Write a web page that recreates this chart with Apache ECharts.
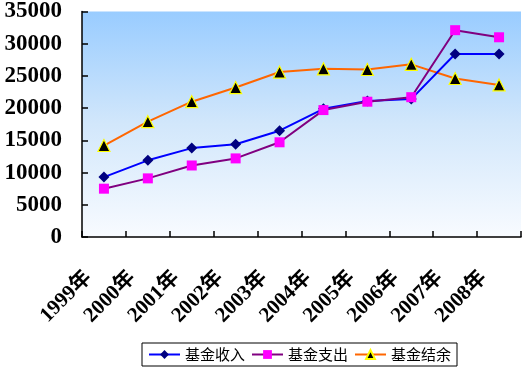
<!DOCTYPE html>
<html><head><meta charset="utf-8">
<script src="https://cdn.jsdelivr.net/npm/echarts@6/dist/echarts.min.js"></script>
<style>html,body{margin:0;padding:0;background:#fff}#c{width:525px;height:373px}</style>
</head><body><div id="c"></div>
<script>
var categories = ['1999年','2000年','2001年','2002年','2003年','2004年','2005年','2006年','2007年','2008年'];
var income = [9300, 11900, 13800, 14400, 16500, 19900, 21100, 21400, 28400, 28400];
var expense = [7500, 9100, 11100, 12200, 14700, 19700, 21000, 21700, 32100, 31000];
var balance = [14200, 17900, 21000, 23200, 25600, 26100, 26000, 26800, 24600, 23600];
var yTicks = [0, 5000, 10000, 15000, 20000, 25000, 30000, 35000];

var chart = echarts.init(document.getElementById('c'), null, {renderer:'canvas'});
chart.setOption({
  animation: false,
  backgroundColor: '#ffffff',
  grid: {
    left: 82, right: 4, top: 11, bottom: 136, show: true, borderWidth: 0,
    backgroundColor: new echarts.graphic.LinearGradient(0,0,0,1,[
      {offset:0,color:'#99CCFF'},{offset:0.5,color:'#D2E7FB'},{offset:1,color:'#F8FBFF'}])
  },
  legend: {
    left: 142, top: 343, width: 316, height: 23,
    padding: [4, 6, 4, 6],
    backgroundColor: '#ffffff', borderColor: '#000000', borderWidth: 1, borderRadius: 0,
    itemWidth: 31, itemHeight: 11, itemGap: 6,
    textStyle: {fontFamily: 'Noto Sans CJK SC', fontSize: 15, color: '#000'},
    data: ['基金收入','基金支出','基金结余']
  },
  xAxis: {
    type: 'category', data: categories, boundaryGap: true,
    axisLine: {lineStyle: {color: '#000', width: 1.5}},
    axisTick: {show: true, inside: true, length: 6, alignWithLabel: false, lineStyle: {color:'#000', width: 1.5}},
    axisLabel: {rotate: 45, interval: 0, margin: 22, padding: [0, 22, 0, 0],
      fontFamily: 'Liberation Serif, Noto Sans CJK SC', fontWeight: 'bold', fontSize: 21, color: '#000'},
    splitLine: {show: false}
  },
  yAxis: {
    type: 'value', min: 0, max: 35000, interval: 5000,
    axisLine: {show: true, lineStyle: {color: '#000', width: 1.5}},
    axisTick: {show: true, inside: true, length: 6, lineStyle: {color:'#000', width: 1.5}},
    axisLabel: {margin: 20, fontFamily: 'Liberation Serif', fontWeight: 'bold', fontSize: 23, color: '#000',
      formatter: function(v){ return yTicks.indexOf(v) >= 0 ? String(v) : ''; }},
    splitLine: {show: false}
  },
  series: [
    {name: '基金收入', type: 'line', data: income, symbol: 'diamond', symbolSize: 11,
     lineStyle: {color: '#0000FF', width: 2}, itemStyle: {color: '#000080', borderWidth: 0}, z: 3},
    {name: '基金支出', type: 'line', data: expense, symbol: 'rect', symbolSize: 10,
     lineStyle: {color: '#800080', width: 2}, itemStyle: {color: '#FF00FF', borderWidth: 0}, z: 4},
    {name: '基金结余', type: 'line', data: balance, symbol: 'triangle', symbolSize: 12,
     lineStyle: {color: '#FF6600', width: 2}, itemStyle: {color: '#000000', borderColor: '#FFFF00', borderWidth: 1.2}, z: 2}
  ]
});
</script></body></html>
